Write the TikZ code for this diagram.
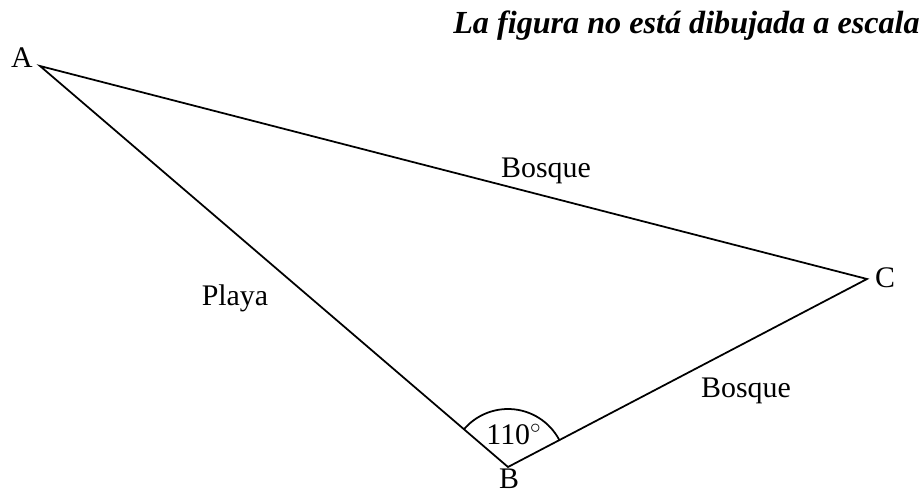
\documentclass[tikz,border=0pt]{standalone}
\usepackage{fontspec}
\setmainfont{Liberation Serif}
\usepackage{tikz}
\usetikzlibrary{positioning,angles}
\newcommand{\lblsize}{\fontsize{17}{20}\selectfont}
\newcommand{\ttlsize}{\fontsize{18.3}{22}\selectfont}

\begin{document}
\begin{tikzpicture}[
  side/.style={line width=1pt, line join=miter},
  lbl/.style={font=\lblsize, inner sep=0pt},
  ttl/.style={font=\ttlsize\bfseries\itshape, inner sep=0pt}
]
  \useasboundingbox (0,0) rectangle (18.44,9.90);

  % Vertices
  \coordinate (A) at (0.80,8.58);
  \coordinate (B) at (10.16,0.56);
  \coordinate (C) at (17.34,4.32);

  % Triangle
  \draw[side] (A) -- (B) -- (C) -- cycle;

  % Angle at B
  \pic[draw, line width=1pt, angle radius=1.16cm] {angle=C--B--A};
  \node[lbl, anchor=base] (angB) at (10.28,1.00) {110$^{\circ}$};

  % Vertex labels
  \node[lbl] (labA) at (0.44,8.74) {A};
  \node[lbl, anchor=north] (labB) at (10.18,0.52) {B};
  \node[lbl] (labC) at (17.70,4.35) {C};

  % Side labels
  \node[lbl, anchor=base] (forestAC) at (10.92,6.34) {Bosque};
  \node[lbl, anchor=base] (beach) at (4.70,3.78) {Playa};
  \node[lbl, anchor=base] (forestBC) at (14.92,1.94) {Bosque};

  % Note
  \node[ttl, anchor=base east] (note) at (18.40,9.22) {La figura no está dibujada a escala};
\end{tikzpicture}
\end{document}
